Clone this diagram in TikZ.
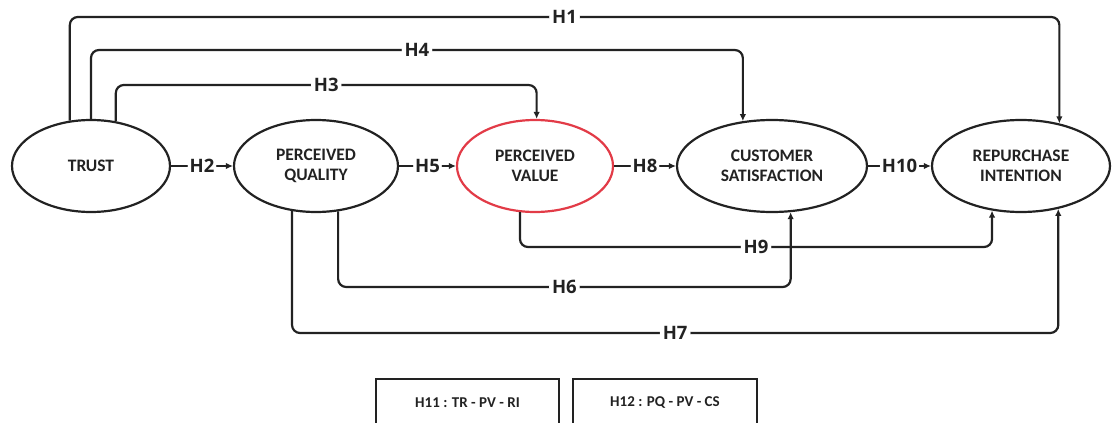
\documentclass[tikz,border=0pt]{standalone}
\usepackage{fontspec}
\setmainfont{Carlito}
\newfontfamily\labfont{Open Sans}
\usetikzlibrary{arrows.meta,shapes.geometric,calc}
\definecolor{ink}{HTML}{222222}
\definecolor{pvred}{HTML}{E23B47}
\begin{document}
\begin{tikzpicture}[x=1pt,y=-1pt,
  construct/.style={ellipse, draw=ink, line width=2.2pt, inner sep=0pt, align=center,
    font=\bfseries\fontsize{17.5}{20}\selectfont, text=ink},
  hlab/.style={fill=white, inner xsep=3pt, inner ysep=1pt,
    font=\labfont\bfseries\fontsize{18.5}{20}\selectfont, text=ink},
  conn/.style={draw=ink, line width=2.2pt, rounded corners=8pt, -{Latex[length=7pt,width=6.5pt]}},
  note/.style={rectangle, draw=ink, line width=2.2pt, minimum height=48pt,
    font=\bfseries\fontsize{15}{17}\selectfont, text=ink}]
\useasboundingbox (0,0) rectangle (1112,423);
\clip (0,0) rectangle (1112,423);

\node[construct, minimum width=158pt, minimum height=92pt] (TR) at (91,166) {TRUST};
\node[construct, minimum width=164pt, minimum height=92pt] (PQ) at (316,166) {PERCEIVED\\QUALITY};
\node[construct, draw=pvred, minimum width=156pt, minimum height=92pt] (PV) at (535,166) {PERCEIVED\\VALUE};
\node[construct, minimum width=190pt, minimum height=92pt] (CS) at (772,166) {CUSTOMER\\SATISFACTION};
\node[construct, minimum width=178pt, minimum height=92pt] (RI) at (1021,166) {REPURCHASE\\INTENTION};

% top connectors
\draw[conn] (TR.115) -- (TR.115 |- 0,17) -- node[hlab]{H1} (RI.48 |- 0,17) -- (RI.48);
\draw[conn] (TR.north) -- (TR.north |- 0,50) -- node[hlab]{H4} (CS.123 |- 0,50) -- (CS.123);
\draw[conn] (TR.61) -- (TR.61 |- 0,85) -- node[hlab]{H3} (PV.88 |- 0,85) -- (PV.88);

% direct connectors
\draw[conn] (TR) -- node[hlab, inner xsep=2pt]{H2} (PQ);
\draw[conn] (PQ) -- node[hlab, inner xsep=2pt]{H5} (PV);
\draw[conn] (PV) -- node[hlab, inner xsep=2pt]{H8} (CS);
\draw[conn] (CS) -- node[hlab, inner xsep=2pt]{H10} (RI);

% bottom connectors
\draw[conn] (PV.252) -- (PV.252 |- 0,247) -- node[hlab]{H9} (RI.237 |- 0,247) -- (RI.237);
\draw[conn] (PQ.296) -- (PQ.296 |- 0,287) -- node[hlab]{H6} (CS.292 |- 0,287) -- (CS.292);
\draw[conn] (PQ.242) -- (PQ.242 |- 0,333) -- node[hlab]{H7} (RI.311 |- 0,333) -- (RI.311);

% notes
\node[note, minimum width=183pt] (N11) at (467.5,403) {H11 : TR - PV - RI};
\node[note, minimum width=184pt] (N12) at (665,403) {H12 : PQ - PV - CS};
\end{tikzpicture}
\end{document}
